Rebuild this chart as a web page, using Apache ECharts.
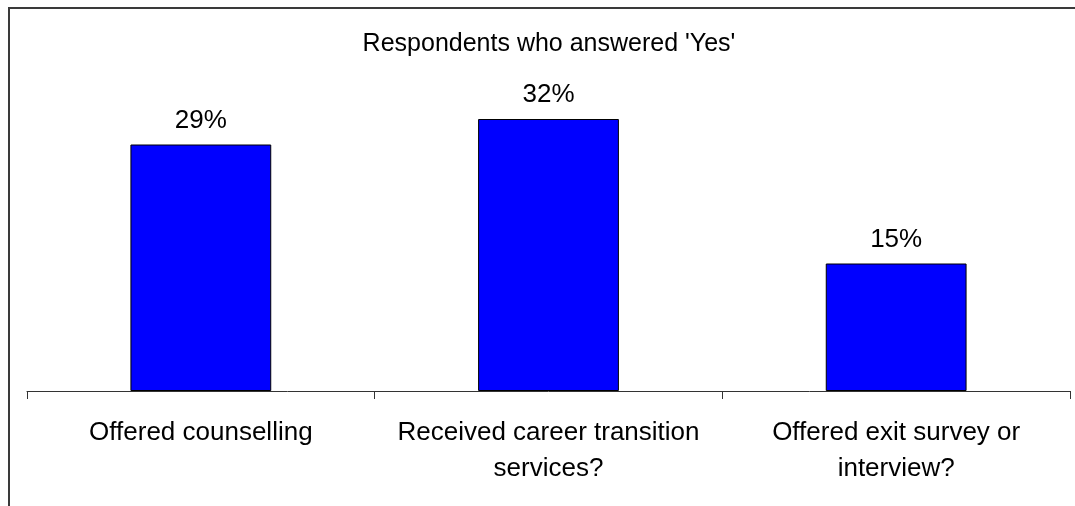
<!DOCTYPE html>
<html>
<head>
<meta charset="utf-8">
<script src="https://cdn.jsdelivr.net/npm/echarts@6/dist/echarts.min.js"></script>
<style>
  html, body { margin: 0; padding: 0; background: #fff; }
  #chart { width: 1075px; height: 506px; }
</style>
</head>
<body>
<div id="chart"></div>
<script>
// Survey questions and share of respondents answering "Yes" (%)
const categories = [
  'Offered counselling',
  'Received career transition\nservices?',
  'Offered exit survey or\ninterview?'
];
const yesShare = [29, 32, 15];
const chartTitle = "Respondents who answered 'Yes'";

const chart = echarts.init(document.getElementById('chart'));
const font = "'Liberation Sans', Arial, Helvetica, sans-serif";

chart.setOption({
  animation: false,
  backgroundColor: '#ffffff',
  title: {
    text: chartTitle,
    left: 549,
    textAlign: 'center',
    top: 32,
    padding: 0,
    textStyle: { fontFamily: font, fontSize: 25, fontWeight: 'normal', color: '#000' }
  },
  graphic: [{
    type: 'polyline',
    shape: { points: [[9, 506], [9, 8], [1075, 8]] },
    style: { stroke: '#3a3a3a', lineWidth: 2, fill: null },
    silent: true
  }],
  grid: { left: 27, right: 5, top: 51, bottom: 115 },
  xAxis: {
    type: 'category',
    data: categories,
    axisLine: { lineStyle: { color: '#333', width: 1 } },
    axisTick: { show: true, length: 8, lineStyle: { color: '#333' } },
    axisLabel: {
      interval: 0,
      margin: 24,
      fontFamily: font,
      fontSize: 26,
      lineHeight: 36,
      color: '#000',
      align: 'center'
    }
  },
  yAxis: {
    type: 'value',
    min: 0,
    max: 40,
    show: false,
    splitLine: { show: false }
  },
  series: [{
    type: 'bar',
    data: yesShare,
    barWidth: '40.5%',
    itemStyle: { color: '#0000ff', borderColor: '#000', borderWidth: 1 },
    label: {
      show: true,
      position: 'top',
      distance: 11,
      formatter: p => p.value + '%',
      fontFamily: font,
      fontSize: 26,
      color: '#000'
    }
  }]
});
</script>
</body>
</html>
